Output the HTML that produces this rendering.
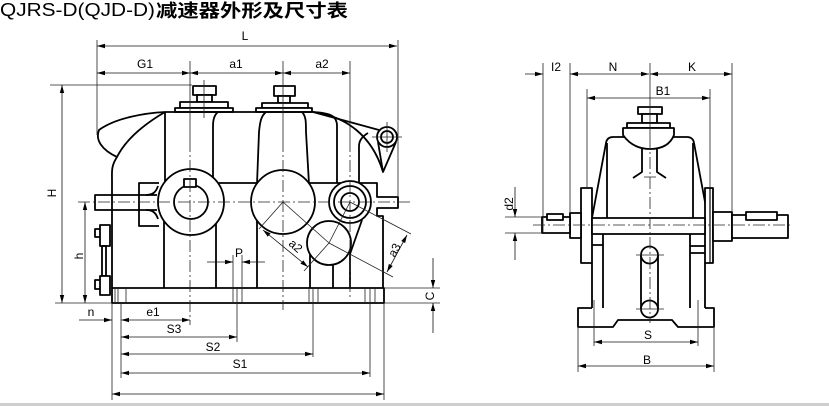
<!DOCTYPE html>
<html><head><meta charset="utf-8"><style>
html,body{margin:0;padding:0;background:#fff;}
svg{display:block;}
text{font-family:"Liberation Sans",Arial,sans-serif;fill:#000;font-size:12px;}
</style></head><body>
<svg width="829" height="406" viewBox="0 0 829 406" xmlns="http://www.w3.org/2000/svg">
<defs>
<marker id="ar" viewBox="0 0 8 6" refX="8" refY="3" markerWidth="8" markerHeight="6" markerUnits="userSpaceOnUse" orient="auto-start-reverse"><path d="M0,0.8L8,3L0,5.2z" fill="#000"/></marker>
</defs>
<rect width="829" height="406" fill="#fff"/>
<rect x="0" y="403" width="829" height="3" fill="#cfcfcf"/>

<!-- Title -->
<text x="0" y="16" style="font-size:18px" textLength="155" lengthAdjust="spacingAndGlyphs">QJRS-D(QJD-D)</text>
<text x="156" y="17" style="font-size:18px;font-weight:bold;font-family:'Liberation Sans','Noto Sans CJK SC',sans-serif" textLength="192" lengthAdjust="spacingAndGlyphs">减速器外形及尺寸表</text>

<!-- LEFT VIEW thick outlines -->
<g stroke="#000" stroke-width="1.8" fill="none" stroke-linejoin="round">
  <!-- caps -->
  <rect x="193" y="86" width="23" height="9" fill="#fff"/>
  <rect x="197" y="95" width="15" height="7" fill="#fff"/>
  <rect x="180" y="102" width="48" height="6" fill="#fff"/>
  <rect x="175" y="108" width="58" height="4" fill="#fff"/>
  <rect x="274" y="86" width="21" height="10" fill="#fff"/>
  <rect x="278" y="96" width="12" height="7" fill="#fff"/>
  <rect x="262" y="103" width="46" height="5" fill="#fff"/>
  <rect x="256" y="108" width="56" height="4" fill="#fff"/>
  <!-- body top -->
  <path d="M165,112 H313"/>
  <path d="M165,112 C145,113 115,118 99,130 C95,140 102,150 117,157 C111,166 112,172 112,180 V288"/>
  <path d="M165,112 C148,122 127,137 117,157"/>
  <path d="M165,112 V182"/>
  <path d="M218,112 C214,115 213,120 213,126 V183"/>
  <path d="M266,112 C261,116 260,122 259,132 L257,184"/>
  <path d="M302,112 C306,116 306,122 306,132 L309,184"/>
  <path d="M313,112 C331,113 337,116 337,126 V183"/>
  <path d="M313,112 C345,116 372,135 383,172"/>
  <path d="M313,112 L379,130"/>
  <path d="M359,183 V146 C359,140 363,136 368,133"/>
  <path d="M378,142 L383,172 L396,142"/>
  <circle cx="387" cy="137" r="10" fill="#fff"/>
  <circle cx="387" cy="137" r="6"/>
  <!-- flange & left shaft -->
  <path d="M159,183 H139 V226 H159"/>
  <path d="M157,195 H95 V210 H157"/>
  <path d="M146,195 C153,195 156,192 158,186"/>
  <path d="M146,210 C153,210 156,213 158,219"/>
  <!-- horizontal flange top segments and right side -->
  <path d="M218,183 H257"/>
  <path d="M309,183 H341"/>
  <path d="M359,183 H377 V197 H398 V208 H377 V216 H383 V288"/>
  <!-- lower verticals -->
  <path d="M164,221 V288"/>
  <path d="M216,224 V288"/>
  <path d="M257,221 V288"/>
  <path d="M310,254 V288"/>
  <path d="M333,265 V288"/>
  <path d="M362,220 L350,254 V288"/>
  <!-- base -->
  <rect x="112" y="288" width="272" height="15"/>
  <!-- oil gauge -->
  <rect x="95" y="229" width="12" height="8" fill="#fff"/>
  <rect x="100" y="225" width="10" height="21" fill="#fff"/>
  <rect x="102" y="246" width="4" height="30"/>
  <rect x="95" y="280" width="12" height="9" fill="#fff"/>
  <rect x="100" y="276" width="10" height="19" fill="#fff"/>
  <!-- circles -->
  <circle cx="191" cy="202" r="33" fill="#fff"/>
  <circle cx="191" cy="202" r="17" fill="#fff"/>
  <rect x="184" y="179" width="12" height="8" fill="#fff"/>
  <circle cx="283" cy="202" r="32" fill="#fff"/>
  <circle cx="350" cy="202" r="21" fill="#fff"/>
  <circle cx="350" cy="202" r="16"/>
  <circle cx="350" cy="202" r="9"/>
  <circle cx="329" cy="243" r="22" fill="#fff"/>
</g>

<!-- LEFT VIEW thin lines -->
<g stroke="#222" stroke-width="0.8" fill="none">
  <path d="M97,40 V135"/>
  <path d="M398,40 V197"/>
  <path d="M190,61 V140 M283,61 V140 M350,61 V140"/>
  <path d="M190,140 V325 M283,140 V310 M350,140 V300 M78,202 H412" stroke-dasharray="12,3,2,3"/>
  <path d="M204,80 V118"/>
  <path d="M372,137 H402 M387,122 V152"/>
  <path d="M50,85 H192"/>
  <path d="M55,303 H112"/>
  <path d="M112,303 V400 M121,303 V378 M237,288 V342 M313,288 V357 M370,288 V377 M384,303 V400"/>
  <path d="M384,288 H440 M384,303 H440"/>
  <path d="M233,255 V303 M242,255 V303"/>
  <path d="M115,288 V303 M118,288 V303 M126,288 V303 M309,288 V303 M318,288 V303 M365,288 V303 M375,288 V303"/>
  <path d="M283,202 L259,229 M329,243 L304,271 M283,202 L329,243"/>
  <path d="M350,202 L411,234 M329,243 L393,277 M350,202 L329,243"/>
</g>
<g stroke="#111" stroke-width="0.8" fill="none" marker-start="url(#ar)" marker-end="url(#ar)">
  <path d="M97,46 H397"/>
  <path d="M97,73 H190"/>
  <path d="M190,73 H283"/>
  <path d="M283,73 H350"/>
  <path d="M62,85 V303"/>
  <path d="M85,202 V303"/>
  <path d="M121,320 H190"/>
  <path d="M121,337 H237"/>
  <path d="M121,354 H313"/>
  <path d="M121,373 H370"/>
  <path d="M112,394 H384"/>
  <path d="M263,230 L308,267"/>
  <path d="M407,235 L387,272"/>
</g>
<g stroke="#111" stroke-width="0.8" fill="none" marker-end="url(#ar)">
  <path d="M79,320 H112"/>
  <path d="M433,258 V288"/>
  <path d="M433,333 V303"/>
  <path d="M207,262 H233"/>
  <path d="M265,262 H242"/>
</g>
<!-- LEFT labels -->
<text x="245" y="40" text-anchor="middle">L</text>
<text x="145" y="68" text-anchor="middle">G1</text>
<text x="236" y="68" text-anchor="middle">a1</text>
<text x="322" y="68" text-anchor="middle">a2</text>
<text transform="translate(56,193) rotate(-90)" text-anchor="middle">H</text>
<text transform="translate(83,256) rotate(-90)" text-anchor="middle">h</text>
<text transform="translate(434,296) rotate(-90)" text-anchor="middle">C</text>
<text x="239" y="257" text-anchor="middle">P</text>
<text transform="translate(293,249) rotate(42)" text-anchor="middle">a2</text>
<text transform="translate(398,252) rotate(-62)" text-anchor="middle">a3</text>
<text x="91" y="316" text-anchor="middle">n</text>
<text x="153" y="316" text-anchor="middle">e1</text>
<text x="174" y="333" text-anchor="middle">S3</text>
<text x="213" y="351" text-anchor="middle">S2</text>
<text x="240" y="368" text-anchor="middle">S1</text>

<!-- RIGHT VIEW thick -->
<g stroke="#000" stroke-width="1.8" fill="none" stroke-linejoin="round">
  <path d="M592,218 L606,143 Q607,137 613,137 H687 Q693,137 694,143 L708,218" fill="#fff"/>
  <path d="M607,143 V218 M693,143 V218"/>
  <rect x="638" y="107" width="24" height="7" fill="#fff"/>
  <rect x="642" y="114" width="15" height="9" fill="#fff"/>
  <rect x="627" y="123" width="43" height="5" fill="#fff"/>
  <path d="M623,128 H674 V135 C670,145 661,149 650,149 C639,149 630,145 623,135 Z" fill="#fff"/>
  <path d="M642,149 V172 L633,178 M657,149 V172 L666,178"/>
  <rect x="581" y="188" width="11" height="75" fill="#fff"/>
  <rect x="705" y="188" width="8" height="75" fill="#fff"/>
  <path d="M710,188 V263" stroke-width="1.2"/>
  <rect x="592" y="218" width="113" height="16" fill="#fff"/>
  <rect x="570" y="213" width="11" height="25" fill="#fff"/>
  <rect x="542" y="217" width="28" height="16" fill="#fff"/>
  <rect x="547" y="214" width="16" height="6" fill="#fff"/>
  <rect x="713" y="212" width="19" height="29" fill="#fff"/>
  <rect x="732" y="215" width="56" height="23" fill="#fff"/>
  <rect x="746" y="212" width="31" height="8" fill="#fff"/>
  <path d="M603,234 V308 M592,263 V308 M592,245 H603"/>
  <path d="M690,234 V308 M705,263 V308 M690,246 H705 M690,253 H705"/>
  <path d="M592,308 H578 V327 H613 L618,320 H672 L678,327 H714 V308 H705"/>
  <path d="M641,255 V309 M658,255 V309"/>
  <circle cx="649.5" cy="255" r="8.5" fill="#fff"/>
  <circle cx="649.5" cy="309" r="8.5" fill="#fff"/>
</g>
<!-- RIGHT thin -->
<g stroke="#222" stroke-width="0.8" fill="none">
  <path d="M543,63 V233 M570,63 V213 M732,63 V212 M587,89 V188 M710,89 V188"/>
  <path d="M650,63 V137"/>
  <path d="M650,137 V323 M533,225 H792" stroke-dasharray="12,3,2,3"/>
  <path d="M505,217 H542 M505,233 H542"/>
  <path d="M636,255 H664 M636,309 H664 M644,177 H656"/>
  <path d="M594,300 V346 M698,300 V346"/>
  <path d="M578,327 V372 M714,327 V372"/>
</g>
<g stroke="#111" stroke-width="0.8" fill="none" marker-start="url(#ar)" marker-end="url(#ar)">
  <path d="M570,74 H649"/>
  <path d="M650,74 H732"/>
  <path d="M587,98 H710"/>
  <path d="M594,342 H698"/>
  <path d="M578,366 H714"/>
</g>
<g stroke="#111" stroke-width="0.8" fill="none" marker-end="url(#ar)">
  <path d="M525,74 H543"/>
  <path d="M515,187 V217"/>
  <path d="M515,260 V233"/>
</g>
<!-- RIGHT labels -->
<text x="556" y="71" text-anchor="middle">I2</text>
<text x="613" y="71" text-anchor="middle">N</text>
<text x="692" y="71" text-anchor="middle">K</text>
<text x="663" y="95" text-anchor="middle">B1</text>
<text transform="translate(513,204) rotate(-90)" text-anchor="middle">d2</text>
<text x="648" y="339" text-anchor="middle">S</text>
<text x="647" y="364" text-anchor="middle">B</text>
</svg>
</body></html>
